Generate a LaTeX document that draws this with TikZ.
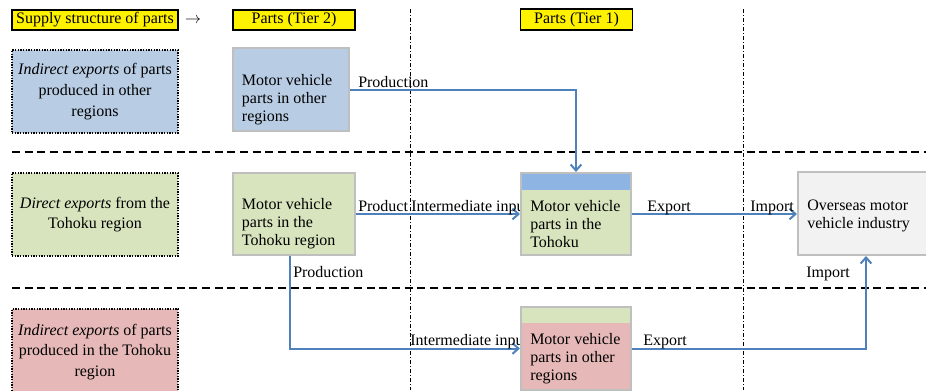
\documentclass[tikz,border=0pt]{standalone}
\usepackage{fontspec}
\setmainfont{Liberation Serif}
\usepackage{tikz}
\usetikzlibrary{arrows.meta,positioning,backgrounds}
\usepackage{xcolor}
\definecolor{regblue}{RGB}{184,204,228}
\definecolor{reggreen}{RGB}{215,228,189}
\definecolor{regpink}{RGB}{230,185,184}
\definecolor{overgray}{RGB}{242,242,242}
\definecolor{stripblue}{RGB}{141,180,226}
\definecolor{partgray}{RGB}{191,191,191}
\definecolor{connblue}{RGB}{79,129,189}

\begin{document}
\begin{tikzpicture}[x=0.75pt, y=-0.75pt,
    every node/.style={font=\fontsize{12}{13.5}\selectfont},
    tag/.style={draw=black, line width=1.1pt, fill=yellow, inner sep=0pt, minimum height=15pt},
    region/.style={draw=black, densely dotted, line width=1pt, align=center, inner sep=0pt,
        minimum width=124.5pt, minimum height=62.25pt, font=\fontsize{12}{15.5}\selectfont},
    part/.style={draw=partgray, line width=2pt, inner sep=0pt},
    firstpart/.style={draw=partgray, line width=1.5pt, inner sep=0pt, minimum width=82.5pt},
    parttext/.style={anchor=west, align=left, inner sep=0pt},
    divider/.style={line width=0.75pt, dash pattern=on 3pt off 1.5pt on 0.75pt off 1.5pt},
    rowline/.style={line width=1.5pt, dash pattern=on 6pt off 3.5pt},
    conn/.style={draw=connblue, line width=1.5pt, -{Straight Barb[length=4.5pt,width=8pt]}},
    flowlbl/.style={anchor=base west, inner sep=0pt}]

    \useasboundingbox (0,0) rectangle (926,390);

    % Header
    \node[tag, minimum width=124.5pt] (supply) at (95,20) {Supply structure of parts};
    \node (supplyarrow) at (193,21) {$\rightarrow$};
    \node[tag, minimum width=91.5pt] (tiertwo) at (294,20) {Parts (Tier 2)};
    \node[tag, minimum width=84pt, minimum height=15.75pt] (tierone) at (576.5,19.5) {Parts (Tier 1)};

    % Left column
    \node[region, fill=regblue] (indirectother) at (95,91.5) {\textit{Indirect exports} of parts\\produced in other\\regions};
    \node[region, fill=reggreen] (directtohoku) at (95,214.5) {\textit{Direct exports} from the\\Tohoku region};
    \node[region, fill=regpink, minimum height=64.5pt] (indirecttohoku) at (95,352) {\textit{Indirect exports} of parts\\produced in the Tohoku\\region};

    % Tier 2
    \node[part, fill=regblue, minimum width=87pt, minimum height=62.25pt] (partsother) at (291,89.5) {};
    \node[parttext] (partsothertext) at ([xshift=7.5pt,yshift=-7.5pt]partsother.west) {Motor vehicle\\parts in other\\regions};
    \node[part, fill=reggreen, minimum width=91.5pt, minimum height=61.5pt] (partstohoku) at (294,214) {};
    \node[parttext] (partstohokutext) at ([xshift=7.5pt,yshift=-7.5pt]partstohoku.west) {Motor vehicle\\parts in the\\Tohoku region};

    % Tier 1
    \node[firstpart, fill=reggreen, minimum height=61.5pt,
        path picture={\fill[stripblue] (path picture bounding box.north west) rectangle ([yshift=-12.75pt]path picture bounding box.north east);}] (tohokuone) at (576,214) {};
    \node[parttext] (tohokuonetext) at ([xshift=7.5pt,yshift=-7.5pt]tohokuone.west) {Motor vehicle\\parts in the\\Tohoku};
    \node[firstpart, fill=regpink, minimum height=62.25pt,
        path picture={\fill[reggreen] (path picture bounding box.north west) rectangle ([yshift=-12pt]path picture bounding box.north east);}] (otherone) at (576,348.5) {};
    \node[parttext] (otheronetext) at ([xshift=7.5pt,yshift=-7.5pt]otherone.west) {Motor vehicle\\parts in other\\regions};

    % Overseas
    \node[firstpart, fill=overgray, minimum width=102pt, minimum height=62.25pt] (overseas) at (866,213.5) {};
    \node[parttext] (overseastext) at ([xshift=7.5pt,yshift=-1.5pt]overseas.west) {Overseas motor\\vehicle industry};

    \begin{scope}[on background layer]
        % Dividers
        \draw[divider] (410,9) -- (410,390);
        \draw[divider] (743,9) -- (743,390);
        \draw[rowline] (12,152) -- (926,152);
        \draw[rowline] (12,288) -- (926,288);

        % Flows
        \draw[conn] (partsother.east) -| (tohokuone.north);
        \draw[conn] (partstohoku.east) -- (tohokuone.west);
        \draw[conn] ([xshift=-3pt]partstohoku.south) |- (otherone.west);
        \draw[conn] (tohokuone.east) -- (tohokuone.east -| overseas.west);
        \draw[conn] (otherone.east) -| (overseas.south);

        % Flow labels
        \node[flowlbl] (prodtop) at (358,87) {Production};
        \node[flowlbl] (prodmid) at (358,211) {Product};
        \node[flowlbl] (intermid) at (411,211) {Intermediate input};
        \node[flowlbl] (prodlow) at (293,277) {Production};
        \node[flowlbl] (interlow) at (410,345) {Intermediate input};
        \node[flowlbl] (exportmid) at (647,211) {Export};
        \node[flowlbl] (importmid) at (750,211) {Import};
        \node[flowlbl] (importlow) at (806,277) {Import};
        \node[flowlbl] (exportlow) at (643,345.5) {Export};
    \end{scope}
\end{tikzpicture}
\end{document}
